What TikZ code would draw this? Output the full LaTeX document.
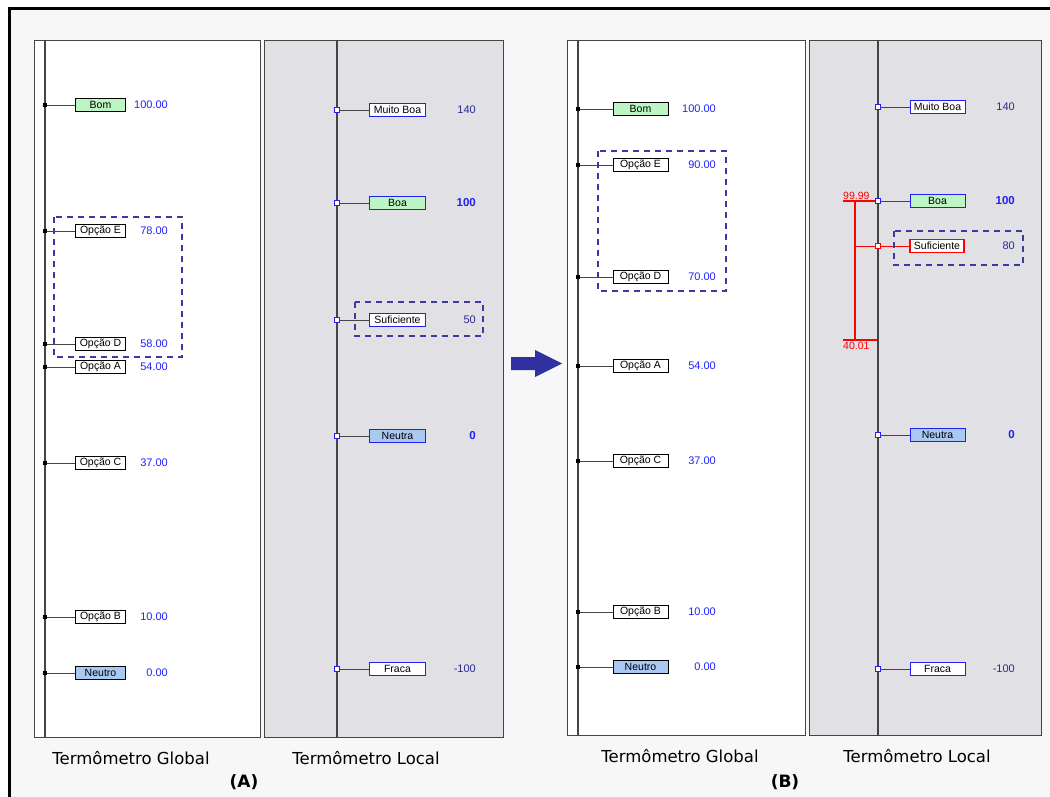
\documentclass[tikz,border=0pt]{standalone}
\usepackage{fontspec}
\setmainfont{DejaVu Sans}
\newfontfamily\uifont{Liberation Sans}
\definecolor{bgray}{HTML}{F7F7F7}
\definecolor{lpanel}{HTML}{E1E0E5}
\definecolor{gfill}{HTML}{BDF5C4}
\definecolor{bfill}{HTML}{A9C8F2}
\definecolor{valblue}{HTML}{2222FF}
\definecolor{lvalblue}{HTML}{2A2A90}
\definecolor{dashblue}{HTML}{3A3AA0}
\definecolor{arrblue}{HTML}{3030A0}
\definecolor{mblue}{HTML}{2020F0}
\definecolor{axisgray}{HTML}{444444}
\tikzset{
  x=1pt,y=-1pt,
  gpanel/.style={draw=axisgray,line width=0.8pt,fill=white},
  lpanelst/.style={draw=axisgray,line width=0.8pt,fill=lpanel},
  axisline/.style={draw=axisgray,line width=1.2pt},
  lbl/.style={draw=black,line width=0.7pt,fill=white,minimum width=50pt,minimum height=13pt,inner sep=0pt,font=\uifont\fontsize{10.5}{11}\selectfont},
  glbl/.style={lbl,fill=gfill},
  nlbl/.style={lbl,fill=bfill},
  llbl/.style={lbl,draw=mblue,minimum width=56pt},
  lglbl/.style={llbl,fill=gfill},
  lnlbl/.style={llbl,fill=bfill},
  rlbl/.style={llbl,draw=red,line width=1.3pt},
  gval/.style={anchor=east,inner sep=0pt,text=valblue,font=\uifont\fontsize{11}{12}\selectfont},
  lval/.style={anchor=east,inner sep=0pt,text=lvalblue,font=\uifont\fontsize{11}{12}\selectfont},
  lvalb/.style={anchor=east,inner sep=0pt,text=mblue,font=\uifont\bfseries\fontsize{11.5}{12}\selectfont},
  conn/.style={draw=axisgray,line width=0.9pt},
  gmark/.style={fill=black,minimum size=4.5pt,inner sep=0pt,outer sep=0pt},
  lmark/.style={draw=mblue,fill=white,line width=0.8pt,minimum size=4.5pt,inner sep=0pt,outer sep=0pt},
  rmark/.style={draw=red,fill=white,line width=0.8pt,minimum size=4.5pt,inner sep=0pt,outer sep=0pt},
  dashbox/.style={draw=dashblue,line width=1.6pt,dash pattern=on 6pt off 5pt},
  caption/.style={inner sep=0pt,font=\fontsize{16.5}{18}\selectfont},
  tag/.style={inner sep=0pt,font=\bfseries\fontsize{17}{19}\selectfont},
  rtext/.style={inner sep=0pt,text=red,font=\uifont\fontsize{10.5}{11}\selectfont},
  redline/.style={draw=red,line width=1.2pt}
}
\begin{document}
\begin{tikzpicture}
\useasboundingbox (0,0) rectangle (1050,797);
\fill[white] (0,0) rectangle (1050,797);
\fill[bgray] (9,9) rectangle (1050,797);
\draw[black,line width=3pt] (9,800) -- (9,9) -- (1053,9);
% panels
\draw[gpanel] (34,40) rectangle (260,737);
\draw[lpanelst] (264,40) rectangle (503,737);
\draw[gpanel] (567,40) rectangle (805,735);
\draw[lpanelst] (809,40) rectangle (1041,735);
\draw[axisline] (45,40) -- (45,737);
\draw[axisline] (337,40) -- (337,737);
\draw[axisline] (578,40) -- (578,735);
\draw[axisline] (878,40) -- (878,735);
% ---------- A global
\foreach \n/\t/\y/\v/\s in {aBom/Bom/105/100.00/glbl, aE/Opção E/231/78.00/lbl, aD/Opção D/344/58.00/lbl, aA/Opção A/367/54.00/lbl, aC/Opção C/463/37.00/lbl, aB/Opção B/617/10.00/lbl, aN/Neutro/673/0.00/nlbl}{
  \node[\s] (\n) at (100.5,\y) {\t};
  \node[gmark] (\n m) at (45,\y) {};
  \draw[conn] (\n m) -- (\n);
  \node[gval] (\n v) at (168,\y) {\v};
}
\draw[dashbox] (54,217) rectangle (182,357);
% ---------- A local
\foreach \n/\t/\y/\s in {lMB/Muito Boa/110/llbl, lBoa/Boa/203/lglbl, lSuf/Suficiente/320/llbl, lNeu/Neutra/436/lnlbl, lFr/Fraca/669/llbl}{
  \node[\s] (\n) at (397.5,\y) {\t};
  \node[lmark] (\n m) at (337,\y) {};
  \draw[conn] (\n m) -- (\n);
}
\node[lval] (lMBv) at (476,110) {140};
\node[lvalb] (lBoav) at (476,203) {100};
\node[lval] (lSufv) at (476,320) {50};
\node[lvalb] (lNeuv) at (476,436) {0};
\node[lval] (lFrv) at (476,669) {-100};
\draw[dashbox] (355,302) rectangle (483,336);
% ---------- arrow
\fill[arrblue] (511,357) -- (535,357) -- (535,350) -- (562,363.5) -- (535,377) -- (535,370) -- (511,370) -- cycle;
% ---------- B global
\foreach \n/\t/\y/\v/\s in {bBom/Bom/109/100.00/glbl, bE/Opção E/165/90.00/lbl, bD/Opção D/277/70.00/lbl, bA/Opção A/366/54.00/lbl, bC/Opção C/461/37.00/lbl, bB/Opção B/612/10.00/lbl, bN/Neutro/667/0.00/nlbl}{
  \node[\s,minimum width=55pt] (\n) at (640.5,\y) {\t};
  \node[gmark] (\n m) at (578,\y) {};
  \draw[conn] (\n m) -- (\n);
  \node[gval] (\n v) at (716,\y) {\v};
}
\draw[dashbox] (598,151) rectangle (726,291);
% ---------- B local
\foreach \n/\t/\y/\s in {mMB/Muito Boa/107/llbl, mBoa/Boa/201/lglbl, mNeu/Neutra/435/lnlbl, mFr/Fraca/669/llbl}{
  \node[\s,minimum width=55pt] (\n) at (937.5,\y) {\t};
  \node[lmark] (\n m) at (878,\y) {};
  \draw[conn] (\n m) -- (\n);
}
\node[rlbl,minimum width=54pt] (mSuf) at (937,246) {Suficiente};
\coordinate (rtop) at (855,201);
\coordinate (rbot) at (855,340);
\coordinate (rmid) at (855,246);
\coordinate (rtl) at (843,201);
\coordinate (rbl) at (843,340);
\coordinate (rbr) at (877,340);
\draw[redline] (rtl) -- (mBoam);
\draw[redline] (rbl) -- (rbr);
\draw[redline] (rtop) -- (rbot);
\node[rmark] (mSufm) at (878,246) {};
\draw[redline,line width=1pt] (rmid) -- (mSufm) -- (mSuf);
\node[lmark] at (878,201) {};
\node[rtext,anchor=south west] (t9999) at (843,199.5) {99.99};
\node[rtext,anchor=north west] (t4001) at (843,342) {40.01};
\node[lval] (mMBv) at (1015,107) {140};
\node[lvalb] (mBoav) at (1015,201) {100};
\node[lval] (mSufv) at (1015,246) {80};
\node[lvalb] (mNeuv) at (1015,435) {0};
\node[lval] (mFrv) at (1015,669) {-100};
\draw[dashbox] (894,231) rectangle (1023,265);
% ---------- captions
\node[caption] (capAG) at (131,758) {Termômetro Global};
\node[caption] (capAL) at (366,758) {Termômetro Local};
\node[tag] (tagA) at (244,782) {(A)};
\node[caption] (capBG) at (680,756) {Termômetro Global};
\node[caption] (capBL) at (917,756) {Termômetro Local};
\node[tag] (tagB) at (785,782) {(B)};
\end{tikzpicture}
\end{document}
